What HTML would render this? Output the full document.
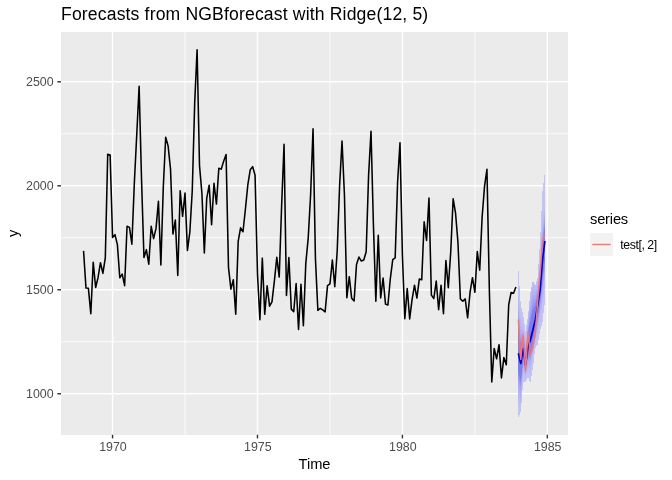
<!DOCTYPE html>
<html><head><meta charset="utf-8"><title>Forecasts from NGBforecast with Ridge(12, 5)</title>
<style>html,body{margin:0;padding:0;background:#fff;}svg{display:block;}</style></head>
<body>
<svg width="672" height="480" viewBox="0 0 672 480">
<rect width="672" height="480" fill="#fff"/>
<rect x="61.0" y="32.0" width="507.0" height="402.75" fill="#EBEBEB" shape-rendering="crispEdges"/>
<g stroke="#fff" stroke-width="0.8" fill="none">
<line x1="61.0" x2="568.0" y1="341.76" y2="341.76"/>
<line x1="61.0" x2="568.0" y1="237.77" y2="237.77"/>
<line x1="61.0" x2="568.0" y1="133.79" y2="133.79"/>
<line y1="32.0" y2="434.75" x1="185.01" x2="185.01"/>
<line y1="32.0" y2="434.75" x1="329.94" x2="329.94"/>
<line y1="32.0" y2="434.75" x1="474.88" x2="474.88"/>
</g>
<g stroke="#fff" stroke-width="1.42" fill="none">
<line x1="61.0" x2="568.0" y1="393.75" y2="393.75"/>
<line x1="61.0" x2="568.0" y1="289.76" y2="289.76"/>
<line x1="61.0" x2="568.0" y1="185.78" y2="185.78"/>
<line x1="61.0" x2="568.0" y1="81.80" y2="81.80"/>
<line y1="32.0" y2="434.75" x1="112.55" x2="112.55"/>
<line y1="32.0" y2="434.75" x1="257.48" x2="257.48"/>
<line y1="32.0" y2="434.75" x1="402.41" x2="402.41"/>
<line y1="32.0" y2="434.75" x1="547.34" x2="547.34"/>
</g>
<path d="M83.56,250.87 L85.98,288.10 L88.40,288.31 L90.81,313.68 L93.23,262.31 L95.64,287.48 L98.06,277.49 L100.47,262.73 L102.89,273.34 L105.30,257.95 L107.72,154.17 L110.13,155.00 L112.55,237.36 L114.97,234.65 L117.38,244.64 L119.80,277.70 L122.21,274.17 L124.63,285.61 L127.04,226.33 L129.46,227.37 L131.87,244.22 L134.29,184.12 L136.70,135.45 L139.12,86.37 L141.54,179.54 L143.95,257.53 L146.37,249.63 L148.78,264.18 L151.20,226.33 L153.61,238.60 L156.03,228.41 L158.44,201.17 L160.86,265.02 L163.28,187.44 L165.69,137.32 L168.11,145.85 L170.52,169.14 L172.94,234.03 L175.35,220.10 L177.77,275.42 L180.18,190.77 L182.60,216.35 L185.01,193.06 L187.43,250.46 L189.85,231.95 L192.26,190.77 L194.68,103.22 L197.09,49.77 L199.51,165.61 L201.92,193.47 L204.34,252.95 L206.75,198.05 L209.17,185.16 L211.59,224.67 L214.00,183.28 L216.42,204.08 L218.83,168.31 L221.25,169.14 L223.66,161.24 L226.08,154.58 L228.49,267.30 L230.91,289.14 L233.33,279.78 L235.74,314.31 L238.16,241.72 L240.57,227.79 L242.99,231.74 L245.40,209.28 L247.82,184.95 L250.23,169.77 L252.65,166.65 L255.06,175.17 L257.48,273.75 L259.90,319.71 L262.31,258.15 L264.73,314.31 L267.14,285.81 L269.56,306.19 L271.97,301.83 L274.39,280.82 L276.80,257.32 L279.22,277.08 L281.63,205.54 L284.05,144.39 L286.47,295.38 L288.88,257.53 L291.30,309.11 L293.71,311.60 L296.13,283.53 L298.54,329.49 L300.96,284.36 L303.37,325.74 L305.79,263.35 L308.21,238.19 L310.62,194.51 L313.04,128.80 L315.45,258.99 L317.87,310.35 L320.28,308.27 L322.70,309.94 L325.11,311.81 L327.53,285.61 L329.94,283.94 L332.36,260.03 L334.78,286.65 L337.19,251.29 L339.61,185.78 L342.02,141.07 L344.44,194.93 L346.85,297.67 L349.27,276.66 L351.68,298.29 L354.10,301.00 L356.52,264.39 L358.93,257.11 L361.35,261.07 L363.76,260.03 L366.18,251.71 L368.59,175.38 L371.01,131.29 L373.42,224.67 L375.84,301.20 L378.26,235.28 L380.67,297.88 L383.09,278.12 L385.50,304.11 L387.92,304.95 L390.33,278.53 L392.75,259.61 L395.16,257.95 L397.58,182.45 L399.99,142.73 L402.41,255.45 L404.83,318.67 L407.24,288.52 L409.66,318.88 L412.07,299.54 L414.49,285.19 L416.90,298.08 L419.32,278.95 L421.73,279.78 L424.15,221.76 L426.56,240.48 L428.98,198.05 L431.40,295.17 L433.81,298.50 L436.23,281.03 L438.64,309.73 L441.06,285.19 L443.47,313.68 L445.89,260.44 L448.30,287.69 L450.72,252.12 L453.14,198.67 L455.55,213.23 L457.97,242.76 L460.38,298.92 L462.80,301.20 L465.21,298.92 L467.63,317.84 L470.04,292.47 L472.46,277.70 L474.88,292.26 L477.29,251.50 L479.71,270.22 L482.12,216.98 L484.54,186.20 L486.95,169.35 L489.37,291.01 L491.78,381.90 L494.20,348.41 L496.61,358.81 L499.03,344.67 L501.45,377.94 L503.86,357.56 L506.28,364.84 L508.69,304.95 L511.11,292.47 L513.52,293.30 L515.94,287.06" fill="none" stroke="#000" stroke-width="1.55" stroke-linejoin="round" stroke-linecap="butt"/>
<g shape-rendering="crispEdges">
<polygon points="518.35,268.80 520.77,304.40 523.19,314.80 525.60,331.50 528.02,315.50 530.43,292.50 532.85,279.80 535.26,286.00 537.68,277.00 540.09,240.70 542.51,191.00 544.92,171.80 544.92,301.70 542.51,321.70 540.09,331.00 537.68,344.50 535.26,348.20 532.85,368.20 530.43,383.00 528.02,377.20 525.60,382.00 523.19,382.00 520.77,411.90 518.35,417.30" fill="#C3C3F6"/>
<polygon points="518.35,285.93 520.77,316.38 523.19,321.63 525.60,335.62 528.02,315.50 530.43,292.50 532.85,279.80 535.26,286.00 537.68,278.22 540.09,254.62 542.51,215.99 544.92,199.62 544.92,289.40 542.51,309.19 540.09,322.69 537.68,336.55 535.26,342.48 532.85,360.46 530.43,374.28 528.02,370.98 525.60,378.55 523.19,375.21 520.77,411.74 518.35,404.33" fill="#C0C0F5"/>
<polygon points="518.35,293.86 520.77,321.93 523.19,324.79 525.60,339.08 528.02,318.15 530.43,293.22 532.85,280.56 535.26,286.52 537.68,281.41 540.09,258.79 542.51,221.17 544.92,204.49 544.92,283.70 542.51,303.40 540.09,318.84 537.68,332.87 535.26,339.84 532.85,356.87 530.43,370.25 528.02,368.10 525.60,376.96 523.19,372.06 520.77,406.06 518.35,398.32" fill="#BCBCF5"/>
<polygon points="518.35,299.34 520.77,325.76 523.19,326.98 525.60,341.47 528.02,320.77 530.43,297.53 532.85,285.12 535.26,289.60 537.68,283.61 540.09,261.67 542.51,224.75 544.92,207.86 544.92,279.76 542.51,299.40 540.09,316.18 537.68,330.33 535.26,338.01 532.85,354.39 530.43,367.46 528.02,366.10 525.60,375.86 523.19,369.89 520.77,402.13 518.35,394.17" fill="#B9B9F4"/>
<polygon points="518.35,303.63 520.77,328.76 523.19,328.69 525.60,343.34 528.02,322.81 530.43,300.91 532.85,288.69 535.26,292.02 537.68,285.34 540.09,263.92 542.51,227.55 544.92,210.49 544.92,276.68 542.51,296.27 540.09,314.10 537.68,328.34 535.26,336.58 532.85,352.45 530.43,365.28 528.02,364.55 525.60,374.99 523.19,368.19 520.77,399.06 518.35,390.92" fill="#B5B5F4"/>
<polygon points="518.35,307.21 520.77,331.26 523.19,330.12 525.60,344.90 528.02,324.52 530.43,303.73 532.85,291.66 535.26,294.04 537.68,286.78 540.09,265.80 542.51,229.89 544.92,212.69 544.92,274.11 542.51,293.66 540.09,312.36 537.68,326.68 535.26,335.38 532.85,350.84 530.43,363.46 528.02,363.25 525.60,374.27 523.19,366.77 520.77,396.50 518.35,388.21" fill="#B1B1F4"/>
<polygon points="518.35,310.31 520.77,333.43 523.19,331.35 525.60,346.25 528.02,326.00 530.43,306.16 532.85,294.24 535.26,295.78 537.68,288.02 540.09,267.42 542.51,231.91 544.92,214.59 544.92,271.88 542.51,291.39 540.09,310.86 537.68,325.24 535.26,334.35 532.85,349.44 530.43,361.88 528.02,362.12 525.60,373.65 523.19,365.54 520.77,394.28 518.35,385.86" fill="#ADADF3"/>
<polygon points="518.35,313.06 520.77,335.36 523.19,332.45 525.60,347.45 528.02,327.31 530.43,308.33 532.85,296.53 535.26,297.33 537.68,289.13 540.09,268.87 542.51,233.72 544.92,216.29 544.92,269.90 542.51,289.38 540.09,309.52 537.68,323.97 535.26,333.43 532.85,348.19 530.43,360.48 528.02,361.12 525.60,373.09 523.19,364.45 520.77,392.31 518.35,383.77" fill="#A9A9F3"/>
<polygon points="518.35,315.56 520.77,337.11 523.19,333.45 525.60,348.54 528.02,328.50 530.43,310.30 532.85,298.61 535.26,298.74 537.68,290.13 540.09,270.18 542.51,235.35 544.92,217.82 544.92,268.11 542.51,287.55 540.09,308.31 537.68,322.81 535.26,332.59 532.85,347.06 530.43,359.20 528.02,360.21 525.60,372.59 523.19,363.46 520.77,390.52 518.35,381.88" fill="#A5A5F2"/>
<polygon points="518.35,317.86 520.77,338.71 523.19,334.37 525.60,349.54 528.02,329.60 530.43,312.11 532.85,300.52 535.26,300.04 537.68,291.06 540.09,271.39 542.51,236.85 544.92,219.23 544.92,266.46 542.51,285.88 540.09,307.20 537.68,321.74 535.26,331.83 532.85,346.02 530.43,358.03 528.02,359.38 525.60,372.13 523.19,362.55 520.77,388.87 518.35,380.14" fill="#A1A1F2"/>
<polygon points="518.35,320.00 520.77,340.21 523.19,335.22 525.60,350.48 528.02,330.62 530.43,313.79 532.85,302.30 535.26,301.24 537.68,291.92 540.09,272.51 542.51,238.24 544.92,220.54 544.92,264.92 542.51,284.32 540.09,306.16 537.68,320.75 535.26,331.11 532.85,345.06 530.43,356.95 528.02,358.60 525.60,371.70 523.19,361.70 520.77,387.35 518.35,378.52" fill="#9C9CF1"/>
<polygon points="518.35,322.00 520.77,341.61 523.19,336.02 525.60,351.35 528.02,331.57 530.43,315.37 532.85,303.97 535.26,302.37 537.68,292.72 540.09,273.56 542.51,239.55 544.92,221.77 544.92,263.49 542.51,282.86 540.09,305.19 537.68,319.82 535.26,330.45 532.85,344.15 530.43,355.93 528.02,357.87 525.60,371.30 523.19,360.91 520.77,385.91 518.35,377.01" fill="#9898F1"/>
<polygon points="518.35,323.89 520.77,342.93 523.19,336.77 525.60,352.17 528.02,332.47 530.43,316.86 532.85,305.54 535.26,303.43 537.68,293.48 540.09,274.56 542.51,240.79 544.92,222.94 544.92,262.13 542.51,281.47 540.09,304.27 537.68,318.94 535.26,329.81 532.85,343.29 530.43,354.97 528.02,357.18 525.60,370.92 523.19,360.16 520.77,384.56 518.35,375.57" fill="#9393F0"/>
<polygon points="518.35,325.69 520.77,344.19 523.19,337.49 525.60,352.96 528.02,333.33 530.43,318.27 532.85,307.04 535.26,304.45 537.68,294.20 540.09,275.50 542.51,241.96 544.92,224.04 544.92,260.83 542.51,280.16 540.09,303.40 537.68,318.11 535.26,329.21 532.85,342.48 530.43,354.05 528.02,356.53 525.60,370.55 523.19,359.45 520.77,383.27 518.35,374.21" fill="#8E8EF0"/>
<polygon points="518.35,327.41 520.77,345.39 523.19,338.17 525.60,353.71 528.02,334.15 530.43,319.63 532.85,308.47 535.26,305.42 537.68,294.90 540.09,276.41 542.51,243.09 544.92,225.10 544.92,259.60 542.51,278.90 540.09,302.56 537.68,317.31 535.26,328.64 532.85,341.70 530.43,353.17 528.02,355.91 525.60,370.21 523.19,358.76 520.77,382.04 518.35,372.91" fill="#8989F0"/>
<polygon points="518.35,329.06 520.77,346.55 523.19,338.83 525.60,354.43 528.02,334.94 530.43,320.93 532.85,309.84 535.26,306.35 537.68,295.56 540.09,277.27 542.51,244.17 544.92,226.11 544.92,258.41 542.51,277.70 540.09,301.76 537.68,316.54 535.26,328.09 532.85,340.96 530.43,352.33 528.02,355.31 525.60,369.88 523.19,358.11 520.77,380.85 518.35,371.66" fill="#8383EF"/>
<polygon points="518.35,330.65 520.77,347.66 523.19,339.47 525.60,355.12 528.02,335.70 530.43,322.18 532.85,311.17 535.26,307.24 537.68,296.20 540.09,278.11 542.51,245.21 544.92,227.09 544.92,257.27 542.51,276.54 540.09,300.99 537.68,315.81 535.26,327.56 532.85,340.24 530.43,351.52 528.02,354.73 525.60,369.56 523.19,357.48 520.77,379.71 518.35,370.45" fill="#7D7DEF"/>
</g>
<path d="M518.35,353.30 L520.77,363.50 L523.19,348.50 L525.60,365.00 L528.02,346.50 L530.43,340.00 L532.85,330.00 L535.26,320.00 L537.68,305.30 L540.09,290.00 L542.51,260.00 L544.92,241.00" fill="none" stroke="#0000CC" stroke-width="1.7" stroke-linejoin="round"/>
<path d="M518.35,319.50 L520.77,359.43 L523.19,335.10 L525.60,370.87 L528.02,331.98 L530.43,355.28 L532.85,347.58 L535.26,334.69 L537.68,301.41 L540.09,274.17 L542.51,240.48 L544.92,235.07" fill="none" stroke="#F8766D" stroke-width="1.42" stroke-linejoin="round"/>
<g stroke="#333" stroke-width="1.42">
<line x1="57.33" x2="61.0" y1="393.75" y2="393.75"/>
<line x1="57.33" x2="61.0" y1="289.76" y2="289.76"/>
<line x1="57.33" x2="61.0" y1="185.78" y2="185.78"/>
<line x1="57.33" x2="61.0" y1="81.80" y2="81.80"/>
<line y1="434.75" y2="438.42" x1="112.55" x2="112.55"/>
<line y1="434.75" y2="438.42" x1="257.48" x2="257.48"/>
<line y1="434.75" y2="438.42" x1="402.41" x2="402.41"/>
<line y1="434.75" y2="438.42" x1="547.34" x2="547.34"/>
</g>
<g font-family="'Liberation Sans', Arial, sans-serif" font-size="12.4" fill="#4D4D4D">
<text x="53.60" y="398.05" text-anchor="end">1000</text>
<text x="53.60" y="294.06" text-anchor="end">1500</text>
<text x="53.60" y="190.08" text-anchor="end">2000</text>
<text x="53.60" y="86.10" text-anchor="end">2500</text>
<text x="112.95" y="450.6" text-anchor="middle">1970</text>
<text x="257.88" y="450.6" text-anchor="middle">1975</text>
<text x="402.81" y="450.6" text-anchor="middle">1980</text>
<text x="547.74" y="450.6" text-anchor="middle">1985</text>
</g>
<g font-family="'Liberation Sans', Arial, sans-serif" fill="#000">
<text x="314.5" y="468.5" font-size="14.67" text-anchor="middle">Time</text>
<text transform="translate(18,233.4) rotate(-90)" font-size="14.67" text-anchor="middle">y</text>
<text x="61" y="20.4" font-size="17.6" textLength="367.2" lengthAdjust="spacing">Forecasts from NGBforecast with Ridge(12, 5)</text>
<text x="590" y="223.7" font-size="14.67" textLength="38.2" lengthAdjust="spacing">series</text>
</g>
<rect x="590" y="233" width="23.04" height="23.04" fill="#F2F2F2"/>
<line x1="592.3" x2="610.7" y1="244.5" y2="244.5" stroke="#F8766D" stroke-width="1.42"/>
<text x="620.3" y="248.7" font-family="'Liberation Sans', Arial, sans-serif" font-size="12.3" fill="#000" textLength="36.9" lengthAdjust="spacing">test[, 2]</text>
</svg>
</body></html>
